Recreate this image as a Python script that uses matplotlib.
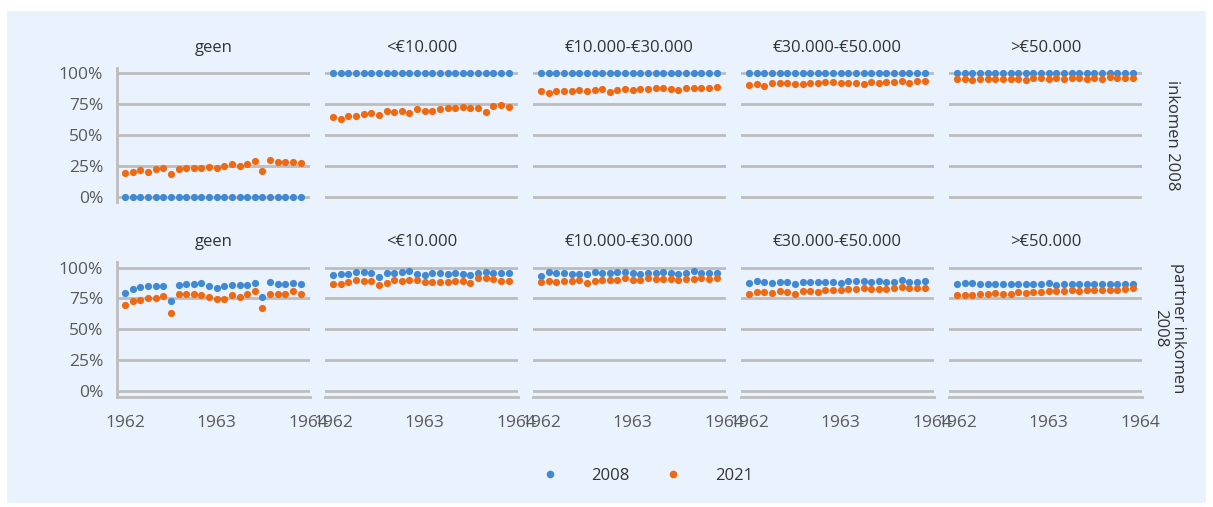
import matplotlib
matplotlib.use('Agg')
import matplotlib.pyplot as plt
from matplotlib.lines import Line2D
from matplotlib.patches import Rectangle
import numpy as np

plt.rcParams['font.family'] = ['Open Sans', 'DejaVu Sans']

BLUE = '#418AD3'
ORANGE = '#EE6A12'
GRID = '#BDBDBD'
BG = '#EAF2FD'
TXT = '#333333'
TICK = '#595959'

# monthly observations, jan 1962 - dec 1963
months = 1962 + np.arange(24) / 12

income_groups = ['geen', '<€10.000', '€10.000-€30.000', '€30.000-€50.000', '>€50.000']
row_labels = ['inkomen 2008', 'partner inkomen\n2008']

# row 1: inkomen 2008
ink_2008 = {
    'geen': [0.0] * 24,
    '<€10.000': [1.0] * 24,
    '€10.000-€30.000': [1.0] * 24,
    '€30.000-€50.000': [1.0] * 24,
    '>€50.000': [1.0] * 24,
}
ink_2021 = {
    'geen': [0.197, 0.203, 0.216, 0.203, 0.227, 0.238, 0.189, 0.227, 0.232, 0.232, 0.232, 0.243,
             0.238, 0.249, 0.270, 0.254, 0.265, 0.292, 0.211, 0.295, 0.281, 0.281, 0.286, 0.276],
    '<€10.000': [0.649, 0.627, 0.657, 0.654, 0.673, 0.681, 0.665, 0.697, 0.684, 0.697, 0.681, 0.711,
                 0.697, 0.697, 0.711, 0.716, 0.714, 0.724, 0.714, 0.719, 0.684, 0.732, 0.741, 0.727],
    '€10.000-€30.000': [0.851, 0.841, 0.851, 0.854, 0.857, 0.859, 0.857, 0.865, 0.870, 0.849, 0.865, 0.868,
                        0.865, 0.870, 0.870, 0.878, 0.876, 0.870, 0.865, 0.881, 0.881, 0.881, 0.876, 0.886],
    '€30.000-€50.000': [0.905, 0.908, 0.897, 0.916, 0.922, 0.916, 0.911, 0.911, 0.922, 0.922, 0.924, 0.927,
                        0.922, 0.922, 0.919, 0.914, 0.924, 0.922, 0.927, 0.930, 0.932, 0.922, 0.932, 0.935],
    '>€50.000': [0.954, 0.954, 0.946, 0.954, 0.954, 0.954, 0.954, 0.954, 0.951, 0.943, 0.957, 0.959,
                 0.954, 0.959, 0.951, 0.962, 0.959, 0.954, 0.962, 0.954, 0.965, 0.962, 0.959, 0.962],
}

# row 2: partner inkomen 2008
partner_2008 = {
    'geen': [0.791, 0.827, 0.840, 0.851, 0.851, 0.851, 0.732, 0.862, 0.870, 0.867, 0.878, 0.854,
             0.837, 0.848, 0.856, 0.859, 0.859, 0.875, 0.764, 0.881, 0.870, 0.870, 0.873, 0.864],
    '<€10.000': [0.940, 0.946, 0.951, 0.962, 0.962, 0.957, 0.927, 0.957, 0.957, 0.962, 0.973, 0.951,
                 0.943, 0.954, 0.954, 0.951, 0.954, 0.949, 0.938, 0.954, 0.967, 0.954, 0.954, 0.954],
    '€10.000-€30.000': [0.935, 0.965, 0.957, 0.957, 0.951, 0.951, 0.946, 0.962, 0.957, 0.959, 0.965, 0.962,
                        0.954, 0.951, 0.954, 0.959, 0.965, 0.959, 0.949, 0.959, 0.973, 0.957, 0.957, 0.959],
    '€30.000-€50.000': [0.873, 0.892, 0.881, 0.873, 0.881, 0.886, 0.864, 0.886, 0.886, 0.886, 0.886, 0.881,
                        0.875, 0.892, 0.892, 0.892, 0.886, 0.892, 0.881, 0.886, 0.897, 0.886, 0.886, 0.892],
    '>€50.000': [0.864, 0.878, 0.873, 0.867, 0.867, 0.870, 0.870, 0.864, 0.864, 0.864, 0.870, 0.864,
                 0.878, 0.859, 0.870, 0.870, 0.870, 0.870, 0.870, 0.870, 0.870, 0.867, 0.870, 0.870],
}
partner_2021 = {
    'geen': [0.696, 0.729, 0.740, 0.756, 0.756, 0.772, 0.631, 0.783, 0.783, 0.789, 0.778, 0.764,
             0.748, 0.748, 0.778, 0.764, 0.789, 0.808, 0.669, 0.789, 0.789, 0.789, 0.808, 0.786],
    '<€10.000': [0.867, 0.867, 0.881, 0.900, 0.894, 0.892, 0.862, 0.875, 0.900, 0.894, 0.897, 0.900,
                 0.881, 0.886, 0.886, 0.886, 0.892, 0.892, 0.873, 0.913, 0.919, 0.905, 0.894, 0.892],
    '€10.000-€30.000': [0.886, 0.892, 0.881, 0.892, 0.892, 0.897, 0.875, 0.892, 0.897, 0.900, 0.902, 0.913,
                        0.897, 0.897, 0.913, 0.908, 0.908, 0.908, 0.897, 0.908, 0.908, 0.913, 0.908, 0.913],
    '€30.000-€50.000': [0.786, 0.805, 0.799, 0.797, 0.813, 0.805, 0.783, 0.813, 0.813, 0.802, 0.816, 0.816,
                        0.816, 0.827, 0.827, 0.832, 0.827, 0.827, 0.827, 0.837, 0.843, 0.832, 0.832, 0.832],
    '>€50.000': [0.778, 0.780, 0.780, 0.789, 0.789, 0.797, 0.789, 0.789, 0.799, 0.797, 0.799, 0.805,
                 0.808, 0.810, 0.808, 0.816, 0.810, 0.816, 0.821, 0.821, 0.818, 0.821, 0.827, 0.837],
}

rows = [(ink_2008, ink_2021), (partner_2008, partner_2021)]

W, H = 1213, 507
fig = plt.figure(figsize=(W / 100, H / 100), dpi=100)
fig.patches.append(Rectangle((7 / W, 1 - 503 / H), 1199 / W, 492 / H,
                             transform=fig.transFigure, facecolor=BG, edgecolor='none', zorder=-10))

col_left = [117, 325, 533, 741, 949]
panel_w = 193
row_top = [68, 262]
row_h = [134, 135]
row_ylim = [(-0.04, 1.04), (-0.049, 1.046)]

for r, (s08, s21) in enumerate(rows):
    for c, grp in enumerate(income_groups):
        ax = fig.add_axes([col_left[c] / W, 1 - (row_top[r] + row_h[r]) / H, panel_w / W, row_h[r] / H])
        ax.set_facecolor('none')
        ax.scatter(months, s08[grp], s=27, color=BLUE, linewidths=0, zorder=3)
        ax.scatter(months, s21[grp], s=27, color=ORANGE, linewidths=0, zorder=3)
        ax.set_xlim(1961.91, 1964.02)
        ax.set_ylim(*row_ylim[r])
        ax.set_yticks([0, 0.25, 0.5, 0.75, 1.0])
        ax.set_xticks([1962, 1963, 1964])
        ax.grid(axis='y', color=GRID, linewidth=2)
        ax.set_axisbelow(True)
        for side in ['top', 'right', 'left', 'bottom']:
            ax.spines[side].set_visible(False)
        ax.tick_params(length=0, labelsize=12.5, colors=TICK, pad=10)
        if c == 0:
            ax.spines['left'].set_visible(True)
            ax.spines['left'].set_color(GRID)
            ax.spines['left'].set_linewidth(2)
            ax.set_yticklabels(['0%', '25%', '50%', '75%', '100%'])
        else:
            ax.set_yticklabels([])
        if r == 1:
            ax.spines['bottom'].set_visible(True)
            ax.spines['bottom'].set_color(GRID)
            ax.spines['bottom'].set_linewidth(2)
            ax.set_xticklabels(['1962', '1963', '1964'])
            ax.tick_params(axis='x', pad=13)
        else:
            ax.set_xticklabels([])
        ax.text(0.5, 1 + 20 / row_h[r], grp, transform=ax.transAxes, ha='center', va='center',
                fontsize=12, color=TXT)

fig.text(1172 / W, 1 - 135 / H, row_labels[0], rotation=-90, ha='center', va='center',
         fontsize=12, color=TXT)
fig.text(1169 / W, 1 - 328 / H, row_labels[1], rotation=-90, ha='center', va='center',
         fontsize=12, color=TXT, multialignment='center', linespacing=1.1)

handles = [Line2D([], [], linestyle='none', marker='o', markersize=5.5, color=BLUE, markeredgewidth=0),
           Line2D([], [], linestyle='none', marker='o', markersize=5.5, color=ORANGE, markeredgewidth=0)]
fig.legend(handles, ['2008', '2021'], loc='center', bbox_to_anchor=(647 / W, 1 - 476 / H), ncol=2,
           frameon=False, handlelength=1, handletextpad=2.0, columnspacing=2.1, fontsize=12,
           labelcolor=TXT)

fig.savefig('out.png', dpi=100, facecolor='white')
